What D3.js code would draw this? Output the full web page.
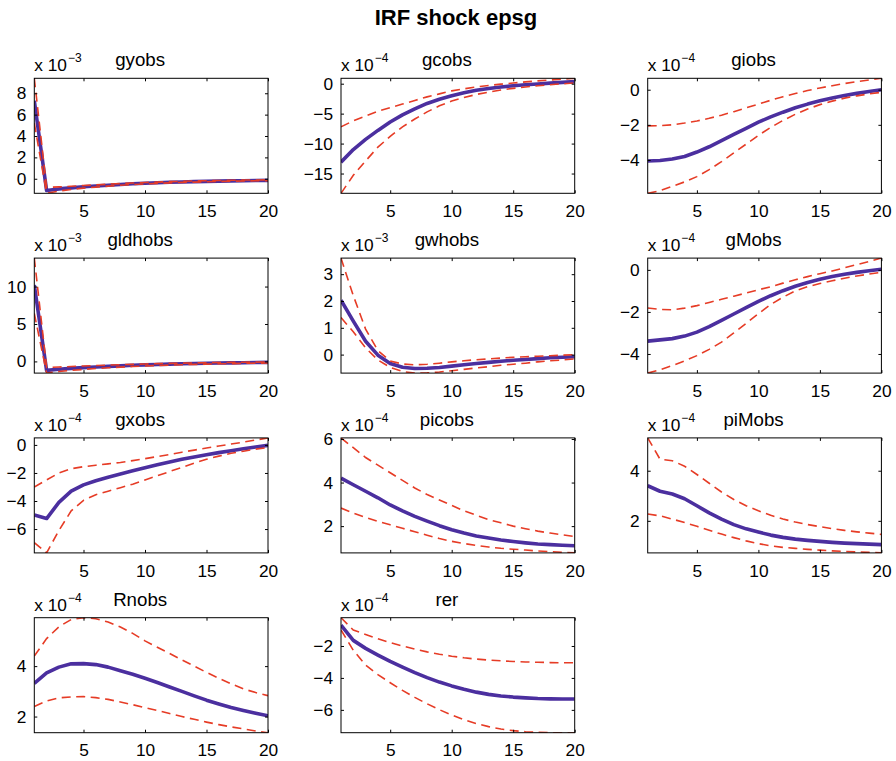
<!DOCTYPE html>
<html>
<head>
<meta charset="utf-8">
<script src="https://cdn.jsdelivr.net/npm/d3@7"></script>
<style>
  body { margin: 0; background: #fff; }
  text { font-family: "Liberation Sans", Arial, Helvetica, sans-serif; fill: #000; }
</style>
</head>
<body>
<svg id="fig" width="896" height="761"></svg>
<script>
// Impulse responses to the epsg shock: posterior mean with lower/upper bands.
// Values are given in units of 10^exponent for each panel.
const figureTitle = "IRF shock epsg";
const horizon = d3.range(1, 21);
const xTickValues = [5, 10, 15, 20];

const panelNames = ["gyobs", "gcobs", "giobs", "gldhobs", "gwhobs", "gMobs",
                    "gxobs", "picobs", "piMobs", "Rnobs", "rer"];
const exponents = [-3, -4, -4, -3, -3, -4, -4, -4, -4, -4, -4];
const yTickValues = [
  [0, 2, 4, 6, 8], [-15, -10, -5, 0], [-4, -2, 0], [0, 5, 10], [0, 1, 2, 3],
  [-4, -2, 0], [-6, -4, -2, 0], [2, 4, 6], [2, 4], [2, 4], [-6, -4, -2]
];

const gyobsMean  = [7.3, -1.1, -0.95, -0.85, -0.75, -0.67, -0.6, -0.53, -0.47, -0.42, -0.37, -0.33, -0.3, -0.27, -0.24, -0.22, -0.2, -0.18, -0.16, -0.15];
const gyobsUpper = [9.4, -0.8, -0.76, -0.7, -0.63, -0.57, -0.51, -0.45, -0.4, -0.35, -0.31, -0.27, -0.24, -0.21, -0.18, -0.16, -0.14, -0.12, -0.11, -0.1];
const gyobsLower = [5.2, -1.36, -1.15, -1.0, -0.88, -0.78, -0.69, -0.61, -0.54, -0.48, -0.43, -0.38, -0.34, -0.31, -0.28, -0.25, -0.23, -0.21, -0.19, -0.18];

const gcobsMean  = [-13.1, -11.0, -9.3, -7.8, -6.4, -5.2, -4.2, -3.3, -2.6, -2.0, -1.5, -1.1, -0.8, -0.55, -0.35, -0.18, -0.04, 0.1, 0.22, 0.35];
const gcobsUpper = [-7.2, -6.2, -5.4, -4.6, -4.0, -3.4, -2.8, -2.2, -1.7, -1.2, -0.85, -0.55, -0.3, -0.08, 0.12, 0.3, 0.47, 0.62, 0.76, 0.9];
const gcobsLower = [-18.3, -15.3, -12.9, -10.6, -8.8, -7.2, -5.9, -4.7, -3.7, -2.9, -2.3, -1.8, -1.4, -1.05, -0.78, -0.55, -0.35, -0.17, -0.02, 0.12];

const giobsMean  = [-4.06, -4.03, -3.95, -3.8, -3.55, -3.25, -2.9, -2.55, -2.2, -1.85, -1.55, -1.28, -1.03, -0.82, -0.63, -0.47, -0.33, -0.21, -0.1, 0.0];
const giobsUpper = [-2.06, -2.05, -2.0, -1.9, -1.78, -1.63, -1.45, -1.25, -1.03, -0.82, -0.6, -0.4, -0.22, -0.05, 0.1, 0.23, 0.35, 0.46, 0.56, 0.65];
const giobsLower = [-5.9, -5.75, -5.5, -5.25, -4.95, -4.55, -4.1, -3.6, -3.1, -2.6, -2.15, -1.75, -1.4, -1.1, -0.85, -0.65, -0.48, -0.35, -0.24, -0.15];

const gldhobsMean  = [10.2, -1.2, -1.05, -0.93, -0.83, -0.74, -0.66, -0.59, -0.52, -0.46, -0.41, -0.36, -0.32, -0.28, -0.25, -0.22, -0.19, -0.17, -0.15, -0.13];
const gldhobsUpper = [13.8, -0.8, -0.75, -0.68, -0.61, -0.55, -0.49, -0.44, -0.39, -0.34, -0.3, -0.26, -0.23, -0.2, -0.17, -0.15, -0.13, -0.11, -0.09, -0.07];
const gldhobsLower = [6.4, -1.56, -1.35, -1.2, -1.07, -0.95, -0.85, -0.76, -0.68, -0.61, -0.55, -0.49, -0.44, -0.4, -0.36, -0.32, -0.29, -0.26, -0.23, -0.21];

const gwhobsMean  = [2.03, 1.25, 0.5, -0.02, -0.33, -0.47, -0.52, -0.51, -0.48, -0.43, -0.38, -0.33, -0.29, -0.25, -0.21, -0.18, -0.15, -0.12, -0.1, -0.08];
const gwhobsUpper = [3.6, 2.2, 0.95, 0.15, -0.24, -0.35, -0.38, -0.36, -0.32, -0.27, -0.23, -0.19, -0.16, -0.13, -0.1, -0.08, -0.06, -0.04, -0.02, 0.0];
const gwhobsLower = [1.38, 0.85, 0.25, -0.2, -0.48, -0.63, -0.69, -0.68, -0.65, -0.6, -0.55, -0.5, -0.45, -0.4, -0.36, -0.32, -0.27, -0.23, -0.2, -0.16];

const gMobsMean  = [-3.39, -3.33, -3.27, -3.15, -2.96, -2.7, -2.4, -2.1, -1.8, -1.5, -1.23, -0.99, -0.78, -0.6, -0.45, -0.32, -0.21, -0.12, -0.04, 0.03];
const gMobsUpper = [-1.81, -1.88, -1.9, -1.82, -1.7, -1.55, -1.4, -1.25, -1.1, -0.95, -0.8, -0.63, -0.47, -0.32, -0.18, -0.05, 0.1, 0.25, 0.4, 0.56];
const gMobsLower = [-4.91, -4.75, -4.55, -4.33, -4.08, -3.78, -3.44, -3.0, -2.55, -2.08, -1.65, -1.3, -1.0, -0.8, -0.65, -0.52, -0.4, -0.29, -0.2, -0.11];

const gxobsMean  = [-5.0, -5.25, -4.1, -3.3, -2.85, -2.55, -2.3, -2.08, -1.85, -1.63, -1.42, -1.22, -1.03, -0.86, -0.7, -0.55, -0.41, -0.28, -0.15, -0.03];
const gxobsUpper = [-3.0, -2.5, -2.0, -1.7, -1.55, -1.45, -1.35, -1.25, -1.12, -0.98, -0.83, -0.68, -0.52, -0.37, -0.22, -0.08, 0.06, 0.2, 0.35, 0.5];
const gxobsLower = [-6.97, -7.7, -6.1, -4.7, -3.95, -3.55, -3.3, -3.05, -2.8, -2.5, -2.2, -1.9, -1.6, -1.3, -1.02, -0.8, -0.6, -0.45, -0.3, -0.19];

const picobsMean  = [4.2, 3.9, 3.6, 3.3, 2.97, 2.7, 2.45, 2.23, 2.02, 1.83, 1.68, 1.55, 1.45, 1.36, 1.29, 1.23, 1.18, 1.15, 1.12, 1.1];
const picobsUpper = [6.05, 5.6, 5.15, 4.8, 4.45, 4.1, 3.75, 3.45, 3.2, 2.95, 2.7, 2.5, 2.3, 2.15, 2.0, 1.88, 1.77, 1.68, 1.6, 1.52];
const picobsLower = [2.83, 2.6, 2.4, 2.22, 2.06, 1.9, 1.74, 1.58, 1.43, 1.3, 1.2, 1.11, 1.04, 0.98, 0.94, 0.9, 0.86, 0.83, 0.8, 0.77];

const piMobsMean  = [3.4, 3.18, 3.07, 2.88, 2.6, 2.32, 2.07, 1.85, 1.68, 1.55, 1.43, 1.34, 1.27, 1.22, 1.18, 1.14, 1.11, 1.09, 1.07, 1.05];
const piMobsUpper = [5.31, 4.46, 4.4, 4.18, 3.85, 3.5, 3.15, 2.85, 2.6, 2.4, 2.22, 2.07, 1.95, 1.85, 1.77, 1.69, 1.62, 1.56, 1.51, 1.46];
const piMobsLower = [2.27, 2.2, 2.07, 1.93, 1.78, 1.62, 1.47, 1.33, 1.2, 1.09, 1.0, 0.94, 0.9, 0.86, 0.83, 0.8, 0.78, 0.76, 0.74, 0.72];

const RnobsMean  = [3.32, 3.73, 3.96, 4.09, 4.1, 4.06, 3.96, 3.82, 3.68, 3.52, 3.35, 3.17, 3.0, 2.82, 2.65, 2.5, 2.36, 2.24, 2.13, 2.03];
const RnobsUpper = [4.4, 5.09, 5.56, 5.85, 5.92, 5.88, 5.75, 5.55, 5.3, 5.0, 4.75, 4.5, 4.25, 4.0, 3.75, 3.52, 3.3, 3.1, 2.95, 2.83];
const RnobsLower = [2.4, 2.62, 2.74, 2.78, 2.79, 2.75, 2.68, 2.58, 2.47, 2.35, 2.24, 2.12, 2.0, 1.89, 1.78, 1.68, 1.59, 1.51, 1.43, 1.36];

const rerMean  = [-0.7, -1.65, -2.15, -2.57, -2.97, -3.33, -3.67, -3.98, -4.26, -4.5, -4.71, -4.89, -5.03, -5.13, -5.2, -5.25, -5.29, -5.31, -5.32, -5.32];
const rerUpper = [-0.23, -1.0, -1.28, -1.55, -1.79, -2.0, -2.2, -2.37, -2.52, -2.64, -2.74, -2.82, -2.88, -2.93, -2.97, -3.0, -3.02, -3.04, -3.05, -3.05];
const rerLower = [-1.0, -2.27, -3.2, -3.8, -4.3, -4.78, -5.22, -5.62, -5.99, -6.32, -6.62, -6.86, -7.05, -7.2, -7.3, -7.37, -7.41, -7.43, -7.43, -7.43];

const meanSeries  = [gyobsMean, gcobsMean, giobsMean, gldhobsMean, gwhobsMean, gMobsMean, gxobsMean, picobsMean, piMobsMean, RnobsMean, rerMean];
const upperSeries = [gyobsUpper, gcobsUpper, giobsUpper, gldhobsUpper, gwhobsUpper, gMobsUpper, gxobsUpper, picobsUpper, piMobsUpper, RnobsUpper, rerUpper];
const lowerSeries = [gyobsLower, gcobsLower, giobsLower, gldhobsLower, gwhobsLower, gMobsLower, gxobsLower, picobsLower, piMobsLower, RnobsLower, rerLower];

// Layout of the 4x3 grid of axes
const grid = { left0: 34.3, top0: 78.3, dx: 306.7, dy: 179.8, w: 233.7, h: 115 };
const tickFont = 17.3, titleFont = 18.7, tickLen = 3;
const meanColor = "#4b2f9f", bandColor = "#e63c26";

const svg = d3.select("#fig");

svg.append("text")
  .attr("x", 456).attr("y", 25)
  .attr("text-anchor", "middle")
  .style("font-size", "22px").style("font-weight", "bold")
  .text(figureTitle);

const fmt = d3.format("d");

panelNames.forEach((name, i) => {
  const row = Math.floor(i / 3), col = i % 3;
  const left = grid.left0 + col * grid.dx;
  const top = grid.top0 + row * grid.dy;
  const w = grid.w, h = grid.h;

  const all = meanSeries[i].concat(upperSeries[i], lowerSeries[i]);
  const x = d3.scaleLinear().domain([1, 20]).range([0, w]);
  const y = d3.scaleLinear().domain(d3.extent(all)).range([h, 0]);

  const g = svg.append("g").attr("transform", `translate(${left},${top})`);

  const clipId = "clip" + i;
  g.append("clipPath").attr("id", clipId)
    .append("rect").attr("x", 0).attr("y", 0).attr("width", w).attr("height", h);

  const line = d3.line().x((d, k) => x(horizon[k])).y(d => y(d));
  const plot = g.append("g").attr("clip-path", `url(#${clipId})`);

  plot.append("path").datum(meanSeries[i])
    .attr("d", line).attr("fill", "none")
    .attr("stroke", meanColor).attr("stroke-width", 3.6)
    .attr("stroke-linejoin", "round");

  [upperSeries[i], lowerSeries[i]].forEach(s => {
    plot.append("path").datum(s)
      .attr("d", line).attr("fill", "none")
      .attr("stroke", bandColor).attr("stroke-width", 1.6)
      .attr("stroke-dasharray", "9,5.5");
  });

  // Axes with inward ticks on all four sides
  const styleAxis = sel => {
    sel.select(".domain").remove();
    sel.selectAll(".tick line").attr("stroke", "#000").attr("stroke-width", 1);
    sel.selectAll(".tick text").style("font-size", tickFont + "px")
      .style("font-family", '"Liberation Sans", Arial, sans-serif').attr("fill", "#000");
  };

  g.append("g").attr("transform", `translate(0,${h})`)
    .call(d3.axisBottom(x).tickValues(xTickValues).tickSizeInner(-tickLen).tickSizeOuter(0)
      .tickPadding(11.5).tickFormat(fmt))
    .call(styleAxis);
  g.append("g")
    .call(d3.axisTop(x).tickValues(xTickValues).tickSizeInner(-tickLen).tickSizeOuter(0)
      .tickFormat(""))
    .call(styleAxis);
  g.append("g")
    .call(d3.axisLeft(y).tickValues(yTickValues[i]).tickSizeInner(-tickLen).tickSizeOuter(0)
      .tickPadding(8).tickFormat(fmt))
    .call(styleAxis);
  g.append("g").attr("transform", `translate(${w},0)`)
    .call(d3.axisRight(y).tickValues(yTickValues[i]).tickSizeInner(-tickLen).tickSizeOuter(0)
      .tickFormat(""))
    .call(styleAxis);

  g.append("rect").attr("x", 0).attr("y", 0).attr("width", w).attr("height", h)
    .attr("fill", "none").attr("stroke", "#000").attr("stroke-width", 1);

  // Panel title
  g.append("text")
    .attr("x", w / 2 - 11).attr("y", -12)
    .attr("text-anchor", "middle")
    .style("font-size", titleFont + "px")
    .text(name);

  // Exponent multiplier
  const ex = g.append("text").attr("x", 0).attr("y", -7).style("font-size", tickFont + "px");
  ex.append("tspan").text("x 10");
  ex.append("tspan").attr("dx", 1).attr("dy", -9).style("font-size", "12px")
    .text(fmt(exponents[i]));
});
</script>
</body>
</html>
